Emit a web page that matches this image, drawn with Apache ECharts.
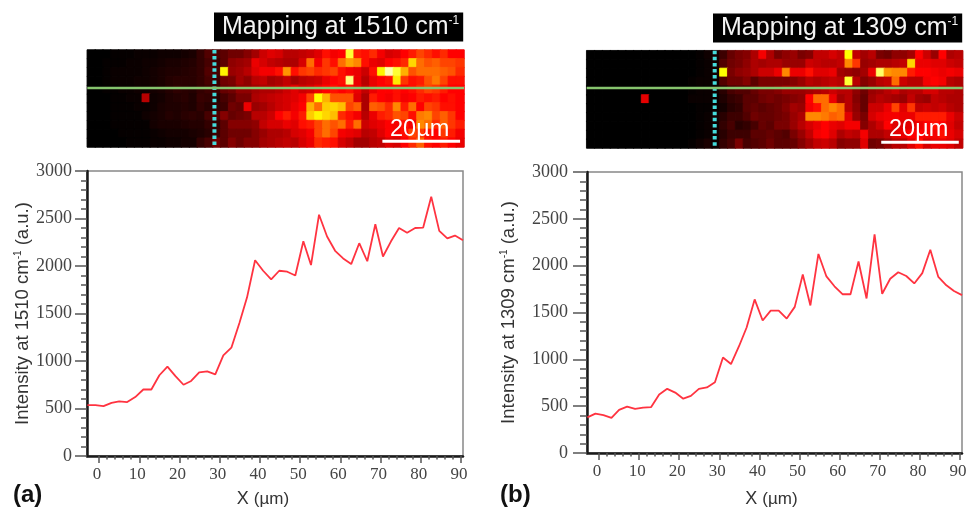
<!DOCTYPE html>
<html><head><meta charset="utf-8">
<style>html,body{margin:0;padding:0;background:#fff}#c{width:970px;height:507px}</style>
<script src="https://cdn.jsdelivr.net/npm/echarts@6/dist/echarts.min.js"></script></head>
<body><div id="c"></div>
<script>
const positionsUm = [-2.9,-0.9,1.1,3.1,5.0,7.0,9.0,11.0,13.0,15.0,17.0,19.0,21.0,22.9,24.9,26.9,28.9,30.9,32.9,34.9,36.8,38.8,40.8,42.8,44.8,46.8,48.8,50.8,52.7,54.7,56.7,58.7,60.7,62.7,64.7,66.7,68.7,70.6,72.6,74.6,76.6,78.6,80.6,82.6,84.6,86.6,88.5,90.5];
const intensity1510 = [535,535,525,560,575,568,620,700,700,850,940,840,750,790,880,890,860,1060,1140,1400,1670,2060,1950,1860,1950,1940,1900,2260,2010,2540,2310,2160,2080,2020,2240,2050,2440,2100,2260,2400,2350,2400,2405,2730,2370,2290,2320,2270];
const intensity1309 = [380,420,405,375,460,495,470,485,490,625,685,645,580,610,685,700,755,1020,950,1140,1340,1640,1415,1520,1520,1435,1560,1905,1575,2125,1885,1780,1695,1695,2045,1650,2335,1700,1860,1930,1890,1810,1920,2170,1880,1790,1730,1685];
const xTicks = [0,10,20,30,40,50,60,70,80,90];
const xMinorTicks = [2,4,6,8,12,14,16,18,22,24,26,28,32,34,36,38,42,44,46,48,52,54,56,58,62,64,66,68,72,74,76,78,82,84,86,88];
const map1510 = [
[0,0,0,1,1,1,2,2,2,3,3,3,4,5,10,16, 15,18,22,22,26,32,40,44,42,36,36,38,40,44,52,48, 50,92,54,52,56,48,42,44,50,54,60,56,52,56,50,50],
[0,0,1,1,1,2,2,3,3,4,5,5,6,7,10,14, 12,18,28,30,32,46,42,38,36,34,34,42,66,48,58,52, 66,74,70,52,46,44,50,52,56,82,66,62,64,60,60,58],
[0,0,1,2,2,2,2,3,4,5,6,6,7,8,10,16, 14,88,30,32,36,44,48,48,52,72,52,58,60,56,58,60, 52,48,46,40,52,88,97,92,76,62,66,66,66,64,62,56],
[0,0,1,2,2,2,3,3,4,5,7,8,8,8,10,14, 12,22,24,32,28,36,38,32,34,38,32,36,38,40,46,50, 52,95,46,36,46,50,52,86,58,52,54,62,68,60,52,52],
[0,0,1,1,2,2,3,3,4,5,7,9,8,7,10,12, 12,20,22,28,28,32,34,34,36,40,44,40,42,46,50,52, 50,52,46,38,46,50,50,52,50,52,56,60,58,54,50,50],
[0,0,0,1,1,2,2,36,3,4,6,7,8,6,11,10, 8,14,18,24,24,34,36,38,40,42,44,48,60,90,76,62, 62,62,44,34,54,50,48,52,48,50,54,52,54,50,52,50],
[0,0,0,1,1,1,2,2,3,5,6,6,7,6,10,8, 10,12,22,20,46,30,32,36,40,42,46,50,76,66,80,82, 78,60,64,34,64,62,56,70,54,66,50,60,58,52,52,50],
[0,0,0,1,1,1,1,3,4,5,7,6,8,9,8,14, 16,26,20,22,24,36,36,40,50,54,48,54,80,88,82,78, 56,52,48,36,46,54,56,62,60,52,68,70,60,64,58,50],
[0,0,0,1,1,1,1,1,4,5,5,5,6,7,7,10, 10,18,26,26,26,28,38,42,42,46,44,52,54,60,66,62, 66,54,66,40,44,46,50,48,52,48,70,66,56,64,58,54],
[0,0,0,0,1,1,1,1,2,3,4,4,4,5,6,8, 12,18,22,22,22,26,30,34,34,36,42,44,48,60,66,60, 48,46,44,36,38,44,50,48,52,60,58,52,50,58,54,48],
[0,0,0,0,0,1,1,1,2,2,3,3,4,4,10,14, 22,18,26,22,26,26,32,34,36,38,36,42,46,56,54,52, 42,38,32,32,36,38,44,42,50,56,64,52,50,54,50,46]
];
const map1309 = [
[0,0,0,0,0,0,0,0,0,0,0,0,0,0,1,3, 4,12,20,24,26,34,48,34,24,28,30,24,26,38,38,42, 38,90,38,32,36,24,22,28,28,32,50,40,30,50,34,36],
[0,0,0,0,0,0,0,0,0,0,0,0,0,0,1,2, 4,16,22,24,28,34,32,34,34,30,30,30,40,38,36,36, 38,70,58,30,32,34,34,36,38,82,46,46,44,44,40,38],
[0,0,0,0,0,0,0,0,0,0,0,0,0,0,1,2, 4,90,24,28,30,34,40,40,46,70,46,46,52,44,44,46, 32,30,28,32,46,94,72,70,70,54,50,50,48,46,48,46],
[0,0,0,0,0,0,0,0,0,0,0,0,0,1,2,2, 3,16,22,22,26,18,24,24,24,24,26,30,36,34,36,38, 36,92,36,26,30,36,38,66,40,36,36,48,50,48,36,34],
[0,0,0,0,0,0,0,0,0,0,0,0,0,1,2,2, 3,8,14,16,16,20,24,24,26,30,30,30,32,34,36,40, 36,36,28,22,30,32,36,40,34,36,36,42,42,36,36,34],
[0,0,0,0,0,0,0,45,0,0,0,0,0,2,2,2, 2,6,10,12,18,18,22,24,22,24,26,28,50,66,66,46, 32,36,26,20,32,36,34,32,30,38,32,30,38,36,34,34],
[0,0,0,0,0,0,0,0,0,0,0,0,0,0,1,1, 2,4,8,10,18,20,18,20,22,26,32,30,48,52,66,70, 66,36,28,20,40,40,46,60,44,58,38,40,38,40,36,34],
[0,0,0,0,0,0,0,0,0,0,0,0,0,0,1,2, 4,8,12,12,16,22,20,20,22,24,30,34,70,70,68,64, 66,44,30,24,42,46,48,48,46,46,54,54,54,54,46,40],
[0,0,0,0,0,0,0,0,0,0,0,0,0,0,1,2, 3,10,14,8,10,14,20,18,24,24,30,36,42,46,50,46, 44,48,48,26,34,40,50,44,44,44,46,50,52,50,44,38],
[0,0,0,0,0,0,0,0,0,0,0,0,0,0,1,2, 3,8,12,12,12,18,18,20,18,16,24,30,38,48,50,44, 34,38,36,48,34,34,38,44,46,50,50,48,48,52,46,42],
[0,0,0,0,0,0,0,0,0,0,0,0,0,1,3,5, 3,10,14,24,14,16,18,22,18,18,20,26,32,38,40,36, 26,28,28,44,22,24,30,36,36,44,52,42,46,46,44,38]
];
const boundary1510 = [[16.2,0],[16.2,11]], boundary1309 = [[16.34,0],[16.34,11]];
const profile1510 = [[0,4.31],[48,4.31]], profile1309 = [[0,4.22],[48,4.22]];
const scaleBar = [[37.6,10.36],[47.5,10.36]];
const heatColors = ['#000000','#330000','#660000','#990000','#cc0000','#ff0000','#ff4400','#ff8800','#ffcc00','#ffff00','#ffffff'];

const cols = Array.from({length:48},(_,i)=>i), rows = Array.from({length:11},(_,i)=>i);
const shade = v => {
  const t=Math.min(v,100)/10, i=Math.min(Math.floor(t),9), f=t-i;
  const p=s=>[1,3,5].map(k=>parseInt(s.substr(k,2),16));
  const a=p(heatColors[i]), b=p(heatColors[i+1]);
  return 'rgb('+a.map((c,k)=>Math.round(c+(b[k]-c)*f)).join(',')+')';
};
const cells = m => m.flatMap((r,y)=>r.map((v,x)=>({value:[x,y,v],itemStyle:{borderColor:shade(v),borderWidth:0.8}})));
const pairs = (xs,ys) => xs.map((x,i)=>[x,ys[i]]);
const hidden = {show:false};
const serif = '"Liberation Serif","Times New Roman",serif', sans = '"Liberation Sans",Arial,sans-serif';

const heatAxes = g => ({
  x:[{type:'category',gridIndex:g,data:cols,show:false},{type:'value',gridIndex:g,min:0,max:48,show:false}],
  y:[{type:'category',gridIndex:g,data:rows,inverse:true,show:false},{type:'value',gridIndex:g,min:0,max:11,inverse:true,show:false}]
});
const lineAxes = (g,wn,xGap,yLen,yMargin,yGap,xMargin,yName) => ({
  x:[{type:'value',gridIndex:g,min:-3,max:90.5,position:'bottom',
      name:'{a|X }{b|(µm)}',nameLocation:'middle',nameGap:xGap,
      nameTextStyle:{padding:[0,wn,0,0],rich:{a:{fontFamily:sans,fontSize:18,color:'#333'},b:{fontFamily:sans,fontSize:17,color:'#333'}}},
      splitLine:hidden,
      axisLine:{onZero:false,lineStyle:{color:'#1a1a1a',width:2.5}},
      axisTick:{customValues:xTicks,length:7,lineStyle:{color:'#555',width:1.5}},
      axisLabel:{customValues:xTicks,margin:xMargin,fontFamily:serif,fontSize:17,color:'#444',padding:[0,4,0,0]}},
     {type:'value',gridIndex:g,min:-3,max:90.5,position:'bottom',splitLine:hidden,
      axisLine:hidden,axisLabel:hidden,
      axisTick:{customValues:xMinorTicks,length:3.5,lineStyle:{color:'#555',width:1.5}}}],
  y:[{type:'value',gridIndex:g,min:0,max:3000,interval:500,position:'left',
      name:yName,nameLocation:'middle',nameGap:yGap,nameRotate:90,
      nameTextStyle:{rich:{n:{fontFamily:sans,fontSize:18.5,color:'#333'},s:{fontFamily:sans,fontSize:10,color:'#333',verticalAlign:'top'}}},
      splitLine:hidden,
      axisLine:{show:true,onZero:false,lineStyle:{color:'#1a1a1a',width:2.5}},
      axisTick:{show:true,length:yLen,lineStyle:{color:'#555',width:1.5}},
      minorTick:{show:true,splitNumber:5,length:yLen/2,lineStyle:{color:'#555',width:1.5}},
      axisLabel:{margin:yMargin,fontFamily:serif,fontSize:18,color:'#444',formatter:v=>String(v)}}]
});
const hA=heatAxes(0), lA=lineAxes(1,24,34,12,15,55,10,'{n|Intensity at 1510 cm}{s|-1}{n| (a.u.)}');
const hB=heatAxes(2), lB=lineAxes(3,6,37,14,19,69,10,'{n|Intensity at 1309 cm}{s|-1}{n| (a.u.)}');

const heat = (d,x,y) => ({type:'heatmap',data:cells(d),xAxisIndex:x,yAxisIndex:y,progressive:0,emphasis:{disabled:true}});
const annot = (d,x,y,style) => ({type:'line',data:d,xAxisIndex:x,yAxisIndex:y,showSymbol:false,symbol:'none',silent:true,z:5,clip:false,lineStyle:style});
const dotted = {color:'#45dcdc',width:4,type:[3.5,2.6]}, green = {color:'#86c46e',width:2.5,type:'solid'}, white={color:'#fff',width:3,type:'solid'};
const prof = (d,x,y) => ({type:'line',data:pairs(positionsUm,d),xAxisIndex:x,yAxisIndex:y,showSymbol:false,symbol:'none',z:4,lineStyle:{color:'#ff3340',width:1.8}});
const mapTitle = (t,left,top) => ({text:'{m|Mapping at '+t+' cm}{s|-1}',left,top,backgroundColor:'#000',padding:[2,4,2,8],
  textStyle:{rich:{m:{fontFamily:sans,fontSize:25,fontWeight:'normal',color:'#f4f4f4',lineHeight:24},s:{fontFamily:sans,fontSize:12,fontWeight:'normal',color:'#f4f4f4',verticalAlign:'top',lineHeight:24}}}});
const plain = (text,left,top,style) => ({text,left,top,padding:0,textStyle:style});
const bar20 = {fontFamily:sans,fontSize:23.5,fontWeight:'normal',color:'#fff'}, panel = {fontFamily:sans,fontSize:24,fontWeight:'bold',color:'#111'};
const gridBase = {show:true,outerBoundsMode:'none',containLabel:false};

const chart = echarts.init(document.getElementById('c'),null,{renderer:'canvas'});
chart.setOption({
  animation:false,backgroundColor:'#fff',
  title:[mapTitle('1510',214,13),mapTitle('1309',713,14),
    plain('20µm',390,118,bar20),plain('20µm',889,118,bar20),
    plain('(a)',13,483,panel),plain('(b)',500,483,panel)],
  grid:[{...gridBase,left:87.3,top:50,width:376.7,height:97,borderColor:'#aaa',borderWidth:1},
        {...gridBase,left:87,top:171,width:376,height:285,borderColor:'#888',borderWidth:1.5},
        {...gridBase,left:586.7,top:50.7,width:376,height:97.3,borderColor:'#aaa',borderWidth:1},
        {...gridBase,left:587,top:172,width:375,height:281,borderColor:'#888',borderWidth:1.5}],
  xAxis:[...hA.x,...lA.x,...hB.x,...lB.x],
  yAxis:[...hA.y,...lA.y,...hB.y,...lB.y],
  visualMap:{type:'continuous',show:false,min:0,max:100,seriesIndex:[0,5],inRange:{color:heatColors}},
  series:[
    heat(map1510,0,0),
    annot(boundary1510,1,1,dotted),annot(profile1510,1,1,green),annot(scaleBar,1,1,white),
    prof(intensity1510,2,2),
    heat(map1309,4,3),
    annot(boundary1309,5,4,dotted),annot(profile1309,5,4,green),annot(scaleBar,5,4,white),
    prof(intensity1309,6,5)
  ]
});
</script></body></html>
